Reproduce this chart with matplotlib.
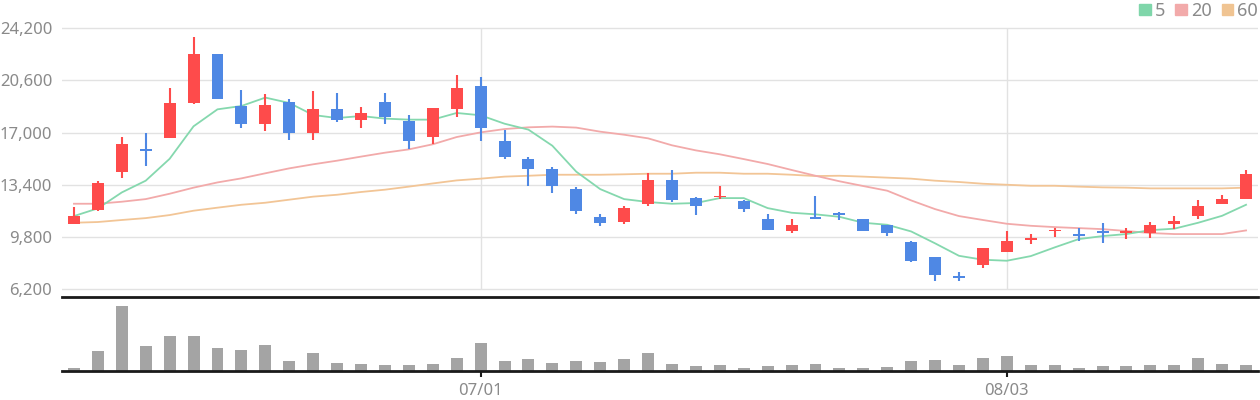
import numpy as np
import matplotlib
matplotlib.use('Agg')
import matplotlib.pyplot as plt
from matplotlib.patches import Patch

plt.rcParams['font.family'] = ['Noto Sans', 'DejaVu Sans']

### daily candles
opens = [10700, 11650, 14300, 15850, 16650, 19050, 22450, 18850, 17600, 19100,
         16950, 18650, 17850, 19100, 17800, 16700, 18650, 20200, 16450, 15200,
         14500, 13100, 11200, 10850, 12050, 13750, 12500, 12550, 12300, 11050,
         10250, 11150, 11450, 11050, 10650, 9450, 8400, 7100, 7900, 8750,
         9600, 10200, 10000, 10200, 10050, 10100, 10700, 11250, 12100, 12450]
closes = [11250, 13550, 16200, 15800, 19050, 22450, 19300, 17600, 18900, 16950,
          18650, 17850, 18350, 18100, 16450, 18700, 20100, 17300, 15350, 14500,
          13300, 11600, 10800, 11800, 13750, 12350, 11950, 12650, 11750, 10300,
          10650, 11050, 11350, 10250, 10050, 8150, 7200, 7000, 9050, 9550,
          9700, 10300, 9900, 10050, 10200, 10650, 10900, 11950, 12400, 14150]
highs = [11850, 13650, 16700, 17000, 20100, 23600, 22450, 19950, 19650, 19300,
         19850, 19750, 18750, 19750, 18200, 18700, 21000, 20850, 17200, 15300,
         14650, 13250, 11400, 11950, 14200, 14450, 12550, 13300, 12350, 11400,
         11050, 12650, 11550, 11050, 10650, 9550, 8400, 7400, 9050, 10200,
         10000, 10400, 10400, 10750, 10400, 10850, 11250, 12350, 12700, 14450]
lows = [10700, 11600, 13900, 14700, 16650, 19000, 19300, 17350, 17150, 16500,
        16500, 17750, 17300, 17600, 15900, 16200, 18050, 16400, 15200, 13350,
        12850, 11400, 10600, 10700, 11950, 12250, 11300, 12450, 11550, 10300,
        10100, 11050, 10950, 10250, 9900, 8050, 6800, 6800, 7700, 8750,
        9350, 9800, 9500, 9400, 9650, 9750, 10350, 11050, 12100, 12450]
volumes = [9, 60, 195, 75, 105, 105, 69, 63, 78, 30,
           54, 24, 21, 18, 18, 21, 39, 84, 30, 36,
           24, 30, 27, 36, 54, 21, 15, 18, 9, 15,
           18, 21, 9, 9, 12, 30, 33, 18, 39, 45,
           18, 18, 9, 15, 15, 18, 18, 39, 21, 18]

### moving averages as drawn
ma5 = [11250, 11780, 12880, 13690, 15200, 17440, 18610, 18840, 19420, 19050,
       18220, 18010, 18150, 17970, 17900, 17900, 18360, 18200, 17620, 17210,
       16100, 14310, 13110, 12420, 12220, 12100, 12150, 12490, 12490, 11800,
       11480, 11370, 11200, 10790, 10650, 10190, 9370, 8510, 8240, 8170,
       8490, 9090, 9660, 9870, 10010, 10280, 10380, 10790, 11270, 12030]
ma20 = [12100, 12100, 12240, 12420, 12790, 13210, 13570, 13850, 14200, 14540,
        14820, 15070, 15350, 15620, 15850, 16200, 16700, 17020, 17250, 17370,
        17420, 17350, 17070, 16860, 16610, 16130, 15780, 15510, 15180, 14840,
        14430, 14030, 13650, 13320, 13000, 12330, 11730, 11250, 10980, 10720,
        10580, 10490, 10420, 10350, 10220, 10080, 10010, 10010, 10010, 10260]
ma60 = [10790, 10840, 10980, 11110, 11320, 11620, 11830, 12030, 12170, 12380,
        12590, 12720, 12910, 13070, 13280, 13500, 13710, 13830, 13970, 14030,
        14100, 14100, 14100, 14130, 14170, 14170, 14240, 14240, 14170, 14170,
        14100, 14010, 14030, 13970, 13900, 13830, 13690, 13600, 13480, 13410,
        13340, 13340, 13280, 13230, 13210, 13160, 13160, 13160, 13160, 13210]

price_ticks = [6200, 9800, 13400, 17000, 20600, 24200]
date_ticks = [17, 39]
date_labels = ['07/01', '08/03']

UP = '#fe4b4b'
DOWN = '#4f88e4'
GRID = '#e2e2e2'
TEXT = '#8a8a8a'
DARK = '#1a1a1a'

fig = plt.figure(figsize=(12.6, 4.0), dpi=100)
ax = fig.add_axes([62/1260, 103/400, 1196/1260, 277/400])
axv = fig.add_axes([62/1260, 29/400, 1196/1260, 74/400], sharex=ax)

x = np.arange(len(opens))
o = np.array(opens, dtype=float)
c = np.array(closes, dtype=float)
colors = np.where(c >= o, UP, DOWN)

### grid first so everything sits on top
for t in price_ticks:
	ax.axhline(t, color=GRID, lw=1, zorder=0)
ax.vlines(date_ticks, price_ticks[0], price_ticks[-1], color=GRID, lw=1, zorder=0)

### moving averages
ax.plot(x, ma60, color='#f2c596', lw=1.3, zorder=1)
ax.plot(x, ma20, color='#f2aaaa', lw=1.3, zorder=1)
ax.plot(x, ma5, color='#85d8ae', lw=1.3, zorder=1)

### candles: wick + body, dojis get a thin visible body
ax.vlines(x, lows, highs, colors=colors, lw=1.5, zorder=2)
body = np.maximum(np.abs(c - o), 110)
bottom = np.minimum(o, c) - (body - np.abs(c - o)) / 2
ax.bar(x, body, bottom=bottom, width=0.5, color=colors, zorder=3)

ax.set_xlim(-0.5, len(opens) - 0.5)
ax.set_ylim(5670, 24770)
ax.set_yticks(price_ticks)
ax.set_yticklabels([f'{t:,}' for t in price_ticks])
ax.tick_params(axis='y', length=0, pad=7, labelsize=12, labelcolor=TEXT)
ax.tick_params(axis='x', bottom=False, labelbottom=False)
for s in ['top', 'left', 'right', 'bottom']:
	ax.spines[s].set_visible(False)

### volume panel, its top spine is the separator line
axv.bar(x, volumes, width=0.5, color='#a4a4a4')
axv.set_ylim(0, max(volumes) * 1.14)
axv.set_yticks([])
for s in ['left', 'right']:
	axv.spines[s].set_visible(False)
for s in ['top', 'bottom']:
	axv.spines[s].set_linewidth(2)
	axv.spines[s].set_color(DARK)
axv.set_xticks(date_ticks)
axv.set_xticklabels(date_labels)
axv.tick_params(axis='x', length=4.5, width=1.5, color=DARK, pad=4,
                labelsize=12, labelcolor=TEXT)

### legend top right
handles = [Patch(color='#7fd6aa', label='5'),
           Patch(color='#f2aaaa', label='20'),
           Patch(color='#f0c492', label='60')]
fig.legend(handles=handles, loc='upper right', bbox_to_anchor=(1.0, 1.0),
           ncol=3, frameon=False, fontsize=13, labelcolor=TEXT,
           handlelength=0.62, handleheight=0.62, handletextpad=0.25,
           columnspacing=0.55, borderpad=0.1, borderaxespad=0.0)

fig.savefig('out.png', dpi=100)
